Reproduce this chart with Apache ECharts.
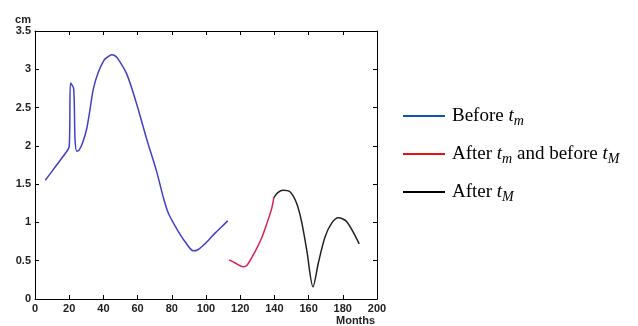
<!DOCTYPE html>
<html>
<head>
<meta charset="utf-8">
<script src="https://cdn.jsdelivr.net/npm/echarts@6/dist/echarts.min.js"></script>
<style>
  html, body { margin: 0; padding: 0; background: #fff; }
  #chart { width: 638px; height: 326px; }
</style>
</head>
<body>
<div id="chart"></div>
<script>
// segment before t_m
const beforeMonths = [6, 10, 14, 18, 20, 20.8, 22.6, 23.4, 24.4, 25.7, 28, 30.2, 32, 34.1, 37, 40.4, 42.5, 44.8, 46.5, 48.1, 53.6, 59.4, 65.3, 71.2, 75, 78, 82.8, 87.7, 92.6, 95, 98.4, 102, 105.3, 109, 112.7];
const beforeValues = [1.55, 1.67, 1.79, 1.91, 1.99, 2.82, 2.75, 2.09, 1.93, 1.94, 2.05, 2.22, 2.45, 2.74, 2.96, 3.12, 3.16, 3.19, 3.18, 3.15, 2.94, 2.55, 2.09, 1.66, 1.33, 1.12, 0.92, 0.75, 0.63, 0.64, 0.70, 0.78, 0.86, 0.94, 1.02];

// segment between t_m and t_M
const betweenMonths = [113.5, 117, 121.8, 124, 128.7, 132.6, 135.5, 138.4, 139.6];
const betweenValues = [0.51, 0.47, 0.42, 0.44, 0.62, 0.80, 0.98, 1.18, 1.32];

// segment after t_M
const afterMonths = [139.6, 142, 145.2, 149.1, 153, 155.9, 158.9, 162.6, 165.7, 169.6, 173.5, 177.4, 182.3, 189.6];
const afterValues = [1.32, 1.39, 1.42, 1.40, 1.25, 1.01, 0.64, 0.16, 0.47, 0.81, 0.99, 1.06, 1.01, 0.72];

const zip = (xs, ys) => xs.map((x, i) => [x, ys[i]]);

const chart = echarts.init(document.getElementById('chart'));

const labelStyle = { fontFamily: 'Liberation Sans', fontSize: 11, color: '#222', fontWeight: 'bold' };
const tickStyle = { show: true, inside: true, length: 4, lineStyle: { color: '#000', width: 1 } };
const lineAxis = { show: true, onZero: false, lineStyle: { color: '#000', width: 1 } };

const legendText = {
  Before: '{n|Before }{t|t}{s|m}',
  Between: '{n|After }{t|t}{s|m}{n| and before }{t|t}{s|M}',
  After: '{n|After }{t|t}{s|M}'
};

const option = {
  animation: false,
  backgroundColor: '#fff',
  grid: { left: 35, top: 31, width: 342, height: 270 },
  xAxis: [
    {
      type: 'value', min: 0, max: 200, interval: 20,
      axisLine: lineAxis, axisTick: tickStyle, splitLine: { show: false },
      axisLabel: { ...labelStyle, margin: 4 },
      name: 'Months', nameLocation: 'end', nameGap: -41,
      nameTextStyle: { ...labelStyle, verticalAlign: 'top', padding: [16, 0, 0, 0] }
    },
    {
      type: 'value', position: 'top', min: 0, max: 200, interval: 20,
      axisLine: lineAxis, axisTick: tickStyle, splitLine: { show: false },
      axisLabel: { show: false }
    }
  ],
  yAxis: [
    {
      type: 'value', min: 0, max: 3.5, interval: 0.5,
      axisLine: lineAxis, axisTick: tickStyle, splitLine: { show: false },
      axisLabel: { ...labelStyle, margin: 4 },
      name: 'cm', nameLocation: 'end', nameGap: 6,
      nameTextStyle: { ...labelStyle, align: 'right', padding: [0, 4, 0, 0] }
    },
    {
      type: 'value', position: 'right', min: 0, max: 3.5, interval: 0.5,
      axisLine: lineAxis, axisTick: tickStyle, splitLine: { show: false },
      axisLabel: { show: false }
    }
  ],
  legend: {
    orient: 'vertical',
    left: 398,
    top: 99,
    itemWidth: 42,
    itemHeight: 2,
    itemGap: 14,
    icon: 'rect',
    data: [
      { name: 'Before', itemStyle: { color: '#1050c8' } },
      { name: 'Between', itemStyle: { color: '#e81010' } },
      { name: 'After', itemStyle: { color: '#000' } }
    ],
    formatter: name => legendText[name],
    textStyle: {
      padding: [0, 0, 0, 2],
      rich: {
        n: { fontFamily: 'Liberation Serif', fontSize: 19, color: '#000', lineHeight: 24, verticalAlign: 'middle' },
        t: { fontFamily: 'Liberation Serif', fontStyle: 'italic', fontSize: 19, color: '#000', lineHeight: 24, verticalAlign: 'middle' },
        s: { fontFamily: 'Liberation Serif', fontStyle: 'italic', fontSize: 14, color: '#000', lineHeight: 14, verticalAlign: 'bottom', padding: [10, 0, 0, 0] }
      }
    }
  },
  series: [
    {
      name: 'Before', type: 'line', data: zip(beforeMonths, beforeValues),
      showSymbol: false, smooth: 0.3,
      lineStyle: { color: '#4040cc', width: 1.5 }, itemStyle: { color: '#4040cc' }
    },
    {
      name: 'Between', type: 'line', data: zip(betweenMonths, betweenValues),
      showSymbol: false, smooth: 0.3,
      lineStyle: { color: '#dc2050', width: 1.5 }, itemStyle: { color: '#dc2050' }
    },
    {
      name: 'After', type: 'line', data: zip(afterMonths, afterValues),
      showSymbol: false, smooth: 0.3,
      lineStyle: { color: '#222', width: 1.5 }, itemStyle: { color: '#222' }
    }
  ]
};

chart.setOption(option);
</script>
</body>
</html>
